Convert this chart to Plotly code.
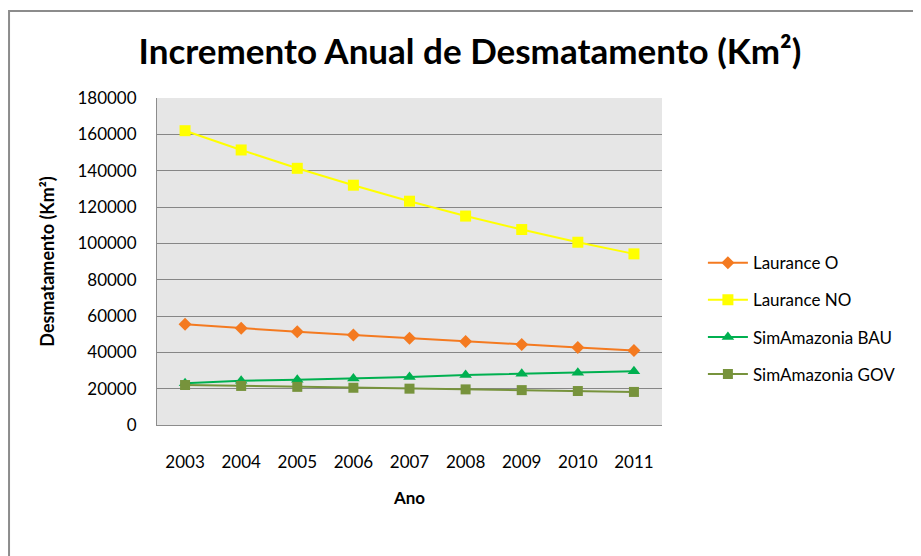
import plotly.graph_objects as go

anos = ["2003", "2004", "2005", "2006", "2007", "2008", "2009", "2010", "2011"]
laurance_o = [55400, 53200, 51300, 49500, 47700, 46000, 44300, 42700, 41000]
laurance_no = [162000, 151400, 141300, 132000, 123200, 115000, 107600, 100600, 94200]
sim_bau = [23000, 24300, 24900, 25600, 26400, 27500, 28200, 28800, 29600]
sim_gov = [22000, 21500, 21000, 20500, 20000, 19600, 19200, 18700, 18200]

fig = go.Figure()

series = [
    ("Laurance O", laurance_o, "#F47A20", "diamond", 10),
    ("Laurance NO", laurance_no, "#FFFF00", "square", 11),
    ("SimAmazonia BAU", sim_bau, "#00B050", "triangle-up", 11),
    ("SimAmazonia GOV", sim_gov, "#77933C", "square", 10),
]
for nome, vals, cor, simbolo, tam in series:
    fig.add_trace(go.Scatter(
        x=anos, y=vals, name=nome, mode="lines+markers", legendgroup=nome,
        line=dict(color=cor, width=2),
        marker=dict(symbol=simbolo, size=tam, color=cor),
    ))

# moldura do gráfico
fig.add_shape(
    type="rect", xref="paper", yref="paper",
    x0=-0.293, x1=1.6, y0=-0.45, y1=1.266,
    line=dict(color="#8c8c8c", width=2), layer="below",
)

fig.update_layout(
    width=913, height=548,
    margin=dict(l=149, r=259, t=90, b=131),
    paper_bgcolor="white",
    plot_bgcolor="#e6e6e6",
    font=dict(family="Lato, Open Sans, sans-serif", color="#000000", size=17),
    title=dict(
        text="<b>Incremento Anual de Desmatamento (Km²)</b>",
        x=462 / 913, xanchor="center", y=1 - 44 / 548, yanchor="middle",
        font=dict(size=35, family="Lato, Open Sans, sans-serif"),
    ),
    xaxis=dict(
        title=dict(text="<b>Ano</b>", font=dict(size=17), standoff=20),
        range=[-0.5, 8.5], showgrid=False,
        showline=True, linecolor="#8c8c8c", linewidth=1,
        ticks="", tickfont=dict(size=17), ticklabelstandoff=22,
    ),
    yaxis=dict(
        title=dict(text="<b>Desmatamento (Km²)</b>", font=dict(size=18), standoff=18),
        range=[0, 180000], dtick=20000, tickformat="d",
        showgrid=True, gridcolor="#868686", gridwidth=1,
        showline=True, linecolor="#8c8c8c", linewidth=1,
        ticks="", tickfont=dict(size=17), zeroline=False, ticklabelstandoff=16,
    ),
    legend=dict(
        x=1.081, xanchor="left", y=0.55, yanchor="top",
        font=dict(size=17), bgcolor="rgba(0,0,0,0)",
        tracegroupgap=12, itemwidth=40,
    ),
    showlegend=True,
)

fig.write_html("out.html")
